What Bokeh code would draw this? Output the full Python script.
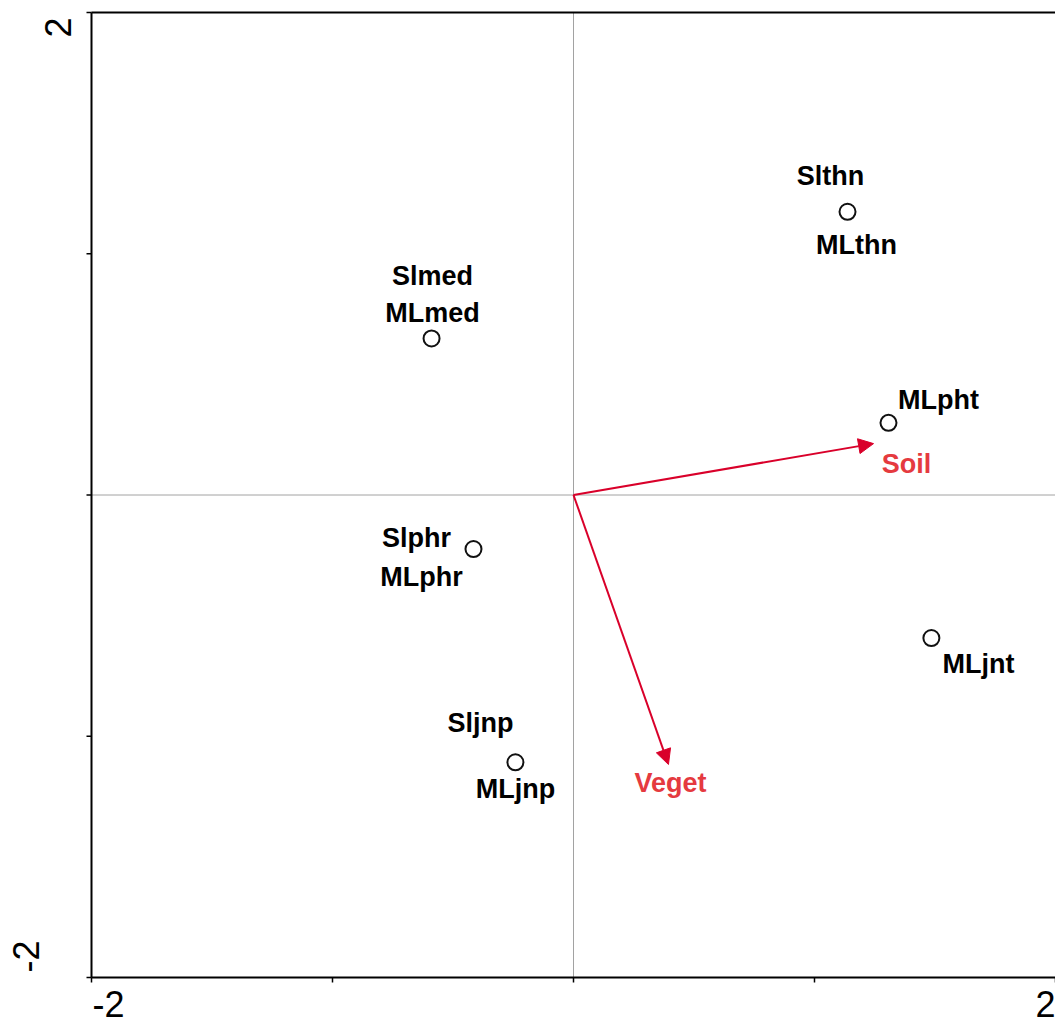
from bokeh.plotting import figure
from bokeh.models import Range1d, Arrow, NormalHead, ColumnDataSource
from bokeh.core.properties import value
from bokeh.embed import file_html
from bokeh.resources import INLINE

# Site scores (ordination axes 1 and 2)
site_x = [1.137, -0.589, 1.307, -0.415, 1.485, -0.241]
site_y = [1.174, 0.649, 0.299, -0.224, -0.593, -1.108]
upper_names = ["Slthn", "Slmed", "", "Slphr", "", "Sljnp"]
lower_names = ["MLthn", "MLmed", "MLpht", "MLphr", "MLjnt", "MLjnp"]

# Environmental variable vectors
env_names = ["Soil", "Veget"]
env_x = [1.245, 0.394]
env_y = [0.213, -1.117]

# Axis extent, ticks and end labels
lim = 2
axis_ticks = [-2, -1, 0, 1, 2]
end_labels = ["-2", "2"]

# label placement (screen pixels, y down)
upper_dx = [-17, 1, 0, -57, 0, -35]
upper_dy = [-36, -62, 0, -11, 0, -39]
lower_dx = [9, 1, 50, -52, 47, 0]
lower_dy = [33, -25, -23, 28, 26, 27]
env_dx = [33, 2]
env_dy = [20, 19]

FONT = "Liberation Sans"
ARROW_RED = "#d9002a"
TEXT_RED = "#e53a3f"

# page geometry: the plotting box is inset from the canvas by these margins
W, H = 1055, 1026
PAD_L, PAD_R, PAD_T, PAD_B = 91, 0, 12, 49
ux = 2 * lim / (W - PAD_L - PAD_R)   # data units per pixel, x
uy = 2 * lim / (H - PAD_T - PAD_B)   # data units per pixel, y

p = figure(width=W, height=H, output_backend="svg", toolbar_location=None,
           x_range=Range1d(-lim - PAD_L * ux, lim + PAD_R * ux),
           y_range=Range1d(-lim - PAD_B * uy, lim + PAD_T * uy),
           x_axis_location=None, y_axis_location=None,
           min_border=0)
p.grid.visible = False
p.outline_line_color = None
p.background_fill_color = "white"
p.border_fill_color = "white"

# zero reference lines (dotted)
p.segment(x0=[0, -lim], y0=[-lim, 0], x1=[0, lim], y1=[lim, 0],
          line_color="#444444", line_width=1, line_dash="1 1")

# box: left, bottom and top rules
p.segment(x0=[-lim, -lim, -lim], y0=[-lim, -lim, lim],
          x1=[-lim, lim, lim], y1=[lim, -lim, lim],
          line_color="black", line_width=2)

# tick marks, pointing outward
TICK = 5
n = len(axis_ticks)
p.segment(x0=[-lim] * n, y0=axis_ticks, x1=[-lim - TICK * ux] * n, y1=axis_ticks,
          line_color="black", line_width=1.5)
p.segment(x0=axis_ticks, y0=[-lim] * n, x1=axis_ticks, y1=[-lim - TICK * uy] * n,
          line_color="black", line_width=1.5)

# end labels of the axes
tick_kw = dict(text_font=value(FONT), text_font_size="36px", text_color="black")
p.text(x=[-lim], y=[-lim], text=[end_labels[0]], x_offset=1, y_offset=13,
       text_align="left", text_baseline="top", **tick_kw)
p.text(x=[lim], y=[-lim], text=[end_labels[1]], x_offset=0, y_offset=13,
       text_align="right", text_baseline="top", **tick_kw)
p.text(x=[-lim], y=[-lim], text=[end_labels[0]], x_offset=-65, y_offset=-5,
       angle=1.5708, text_align="left", text_baseline="alphabetic", **tick_kw)
p.text(x=[-lim], y=[lim], text=[end_labels[1]], x_offset=-34, y_offset=25,
       angle=1.5708, text_align="left", text_baseline="alphabetic", **tick_kw)

# environmental arrows
for ex, ey in zip(env_x, env_y):
    p.add_layout(Arrow(x_start=0, y_start=0, x_end=ex, y_end=ey,
                       line_color=ARROW_RED, line_width=2,
                       end=NormalHead(size=15, fill_color=ARROW_RED, line_color=ARROW_RED,
                                      line_width=1)))

env_src = ColumnDataSource(dict(x=env_x, y=env_y, t=env_names, dx=env_dx, dy=env_dy))
p.text(x="x", y="y", text="t", x_offset="dx", y_offset="dy", source=env_src,
       text_font=value(FONT), text_font_style="bold", text_font_size="27px",
       text_color=TEXT_RED, text_align="center", text_baseline="middle")

# sites
p.scatter(site_x, site_y, size=16, marker="circle", fill_color="white",
          line_color="#111111", line_width=2)

up_src = ColumnDataSource(dict(x=site_x, y=site_y, t=upper_names, dx=upper_dx, dy=upper_dy))
lo_src = ColumnDataSource(dict(x=site_x, y=site_y, t=lower_names, dx=lower_dx, dy=lower_dy))
for src in (up_src, lo_src):
    p.text(x="x", y="y", text="t", x_offset="dx", y_offset="dy", source=src,
           text_font=value(FONT), text_font_style="bold", text_font_size="27px",
           text_color="black", text_align="center", text_baseline="middle")

open("out.html", "w").write(file_html(p, INLINE))
